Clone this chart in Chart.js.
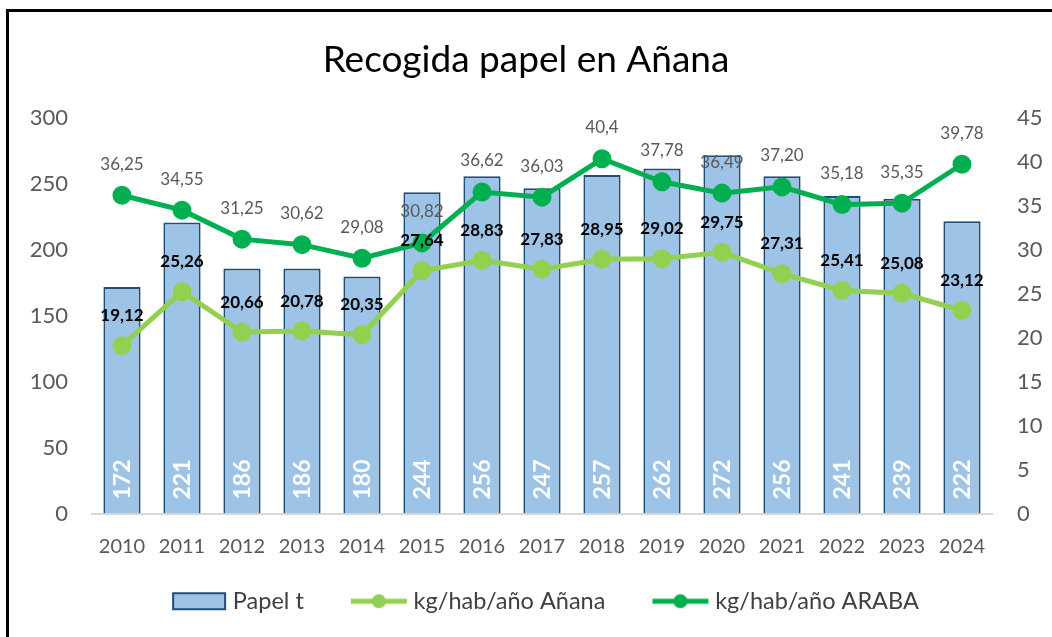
<!DOCTYPE html>
<html>
<head>
<meta charset="utf-8">
<script src="https://cdn.jsdelivr.net/npm/chart.js@4.4.1/dist/chart.umd.min.js"></script>
<style>
  body { margin: 0; background: #fff; }
  #wrap { position: relative; width: 1052px; height: 637px; overflow: hidden; }
  #frame { position: absolute; left: 6px; top: 9px; width: 1100px; height: 700px;
           border-left: 3px solid #000; border-top: 3px solid #000; pointer-events: none; }
  canvas { position: absolute; left: 0; top: 0; }
</style>
</head>
<body>
<div id="wrap">
  <canvas id="chart" width="1052" height="637"></canvas>
  <div id="frame"></div>
</div>
<script>
// data
const years = ['2010','2011','2012','2013','2014','2015','2016','2017','2018','2019','2020','2021','2022','2023','2024'];
const papelT = [172, 221, 186, 186, 180, 244, 256, 247, 257, 262, 272, 256, 241, 239, 222];
const kgAnana = [19.12, 25.26, 20.66, 20.78, 20.35, 27.64, 28.83, 27.83, 28.95, 29.02, 29.75, 27.31, 25.41, 25.08, 23.12];
const kgAraba = [36.25, 34.55, 31.25, 30.62, 29.08, 30.82, 36.62, 36.03, 40.4, 37.78, 36.49, 37.20, 35.18, 35.35, 39.78];
const arabaText = ['36,25','34,55','31,25','30,62','29,08','30,82','36,62','36,03','40,4','37,78','36,49','37,20','35,18','35,35','39,78'];
const leftMax = 300, leftStep = 50;
const rightMax = 45, rightStep = 5;

const FONT = 'Lato';
const BAR_FILL = '#9DC3E6', BAR_LINE = '#1F4E79';
const LIGHT = '#92D050', DARK = '#00B050';
const ICON_PAD = 30;   // gap before each legend symbol
const ICON_W = ICON_PAD + 58;

const fmt = v => v.toFixed(2).replace('.', ',');

// little canvases used as legend symbols; 12px wider than the box so the
// symbol sits closer to its text
function legendIcon(kind, color) {
  const c = document.createElement('canvas');
  c.width = ICON_W + 12; c.height = 20;
  const g = c.getContext('2d');
  const p = ICON_PAD + 12;
  if (kind === 'bar') {
    g.fillStyle = BAR_FILL; g.strokeStyle = BAR_LINE; g.lineWidth = 2;
    g.fillRect(p + 4, 2, 52, 16); g.strokeRect(p + 4, 2, 52, 16);
  } else {
    g.strokeStyle = color; g.lineWidth = 5;
    g.beginPath(); g.moveTo(p + 1, 10); g.lineTo(p + 57, 10); g.stroke();
    g.fillStyle = color;
    g.beginPath(); g.arc(p + 29, 10, 7, 0, Math.PI * 2); g.fill();
  }
  return c;
}
const icons = [legendIcon('bar'), legendIcon('line', LIGHT), legendIcon('line', DARK)];

const valueLabels = {
  id: 'valueLabels',
  afterDatasetsDraw(chart) {
    const ctx = chart.ctx;
    ctx.save();
    // numbers inside the bars, written upwards
    chart.getDatasetMeta(0).data.forEach((bar, i) => {
      ctx.save();
      ctx.translate(bar.x, bar.base - 14);
      ctx.rotate(-Math.PI / 2);
      ctx.font = 'bold 23px ' + FONT;
      ctx.fillStyle = '#ffffff';
      ctx.textAlign = 'left';
      ctx.textBaseline = 'middle';
      ctx.fillText(String(papelT[i]), 0, 1);
      ctx.restore();
    });
    ctx.textAlign = 'center';
    ctx.textBaseline = 'middle';
    ctx.font = '17px ' + FONT;
    ctx.fillStyle = '#595959';
    chart.getDatasetMeta(2).data.forEach((pt, i) => {
      ctx.fillText(arabaText[i], pt.x, pt.y - 31);
    });
    ctx.font = 'bold 17px ' + FONT;
    ctx.fillStyle = '#000000';
    chart.getDatasetMeta(1).data.forEach((pt, i) => {
      ctx.fillText(fmt(kgAnana[i]), pt.x, pt.y - 30);
    });
    ctx.restore();
  }
};

new Chart(document.getElementById('chart'), {
  data: {
    labels: years,
    datasets: [
      {
        type: 'bar',
        label: 'Papel t',
        data: papelT,
        yAxisID: 'y',
        backgroundColor: BAR_FILL,
        borderColor: BAR_LINE,
        borderWidth: 2,
        borderSkipped: 'bottom',
        barPercentage: 0.62,
        categoryPercentage: 1,
        order: 3
      },
      {
        type: 'line',
        label: 'kg/hab/año Añana',
        data: kgAnana,
        yAxisID: 'y1',
        borderColor: LIGHT,
        backgroundColor: LIGHT,
        borderWidth: 5,
        pointRadius: 7,
        pointHoverRadius: 7,
        tension: 0,
        order: 1
      },
      {
        type: 'line',
        label: 'kg/hab/año ARABA',
        data: kgAraba,
        yAxisID: 'y1',
        borderColor: DARK,
        backgroundColor: DARK,
        borderWidth: 5,
        pointRadius: 7,
        pointHoverRadius: 7,
        tension: 0,
        order: 0
      }
    ]
  },
  options: {
    responsive: false,
    animation: false,
    layout: { padding: { left: 8, right: 8, top: 0, bottom: 14 } },
    plugins: {
      title: {
        display: true,
        text: 'Recogida papel en Añana',
        color: '#000',
        font: { family: FONT, size: 37, weight: 'normal' },
        padding: { top: 38, bottom: 36 }
      },
      legend: {
        position: 'bottom',
        labels: {
          font: { family: FONT, size: 23.5 },
          color: '#404040',
          usePointStyle: true,
          pointStyleWidth: ICON_W,
          padding: 10,
          sort: (a, b) => a.datasetIndex - b.datasetIndex,
          generateLabels(chart) {
            const items = Chart.defaults.plugins.legend.labels.generateLabels(chart);
            items.forEach(it => {
              it.pointStyle = icons[it.datasetIndex];
            });
            return items;
          }
        }
      },
      tooltip: { enabled: false }
    },
    scales: {
      x: {
        grid: { display: false },
        border: { display: true, color: '#D9D9D9', width: 2 },
        ticks: { color: '#595959', font: { family: FONT, size: 20 }, padding: 13 },
        afterFit(s) { s.height = 66; }
      },
      y: {
        position: 'left',
        min: 0, max: leftMax,
        grid: { display: false },
        border: { display: false },
        ticks: { stepSize: leftStep, color: '#595959', font: { family: FONT, size: 22 }, padding: 16 },
        afterFit(s) { s.width = 84; }
      },
      y1: {
        position: 'right',
        min: 0, max: rightMax,
        grid: { display: false },
        border: { display: false },
        ticks: { stepSize: rightStep, color: '#595959', font: { family: FONT, size: 22 }, padding: 17 },
        afterFit(s) { s.width = 52; }
      }
    }
  },
  plugins: [valueLabels]
});
</script>
</body>
</html>
